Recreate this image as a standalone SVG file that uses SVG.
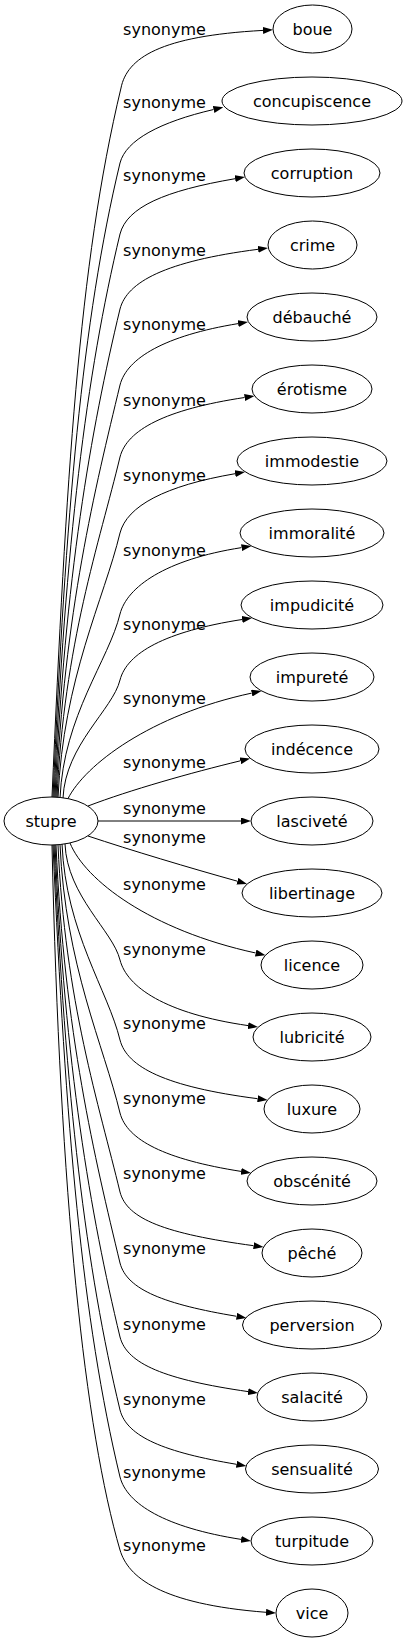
<svg xmlns="http://www.w3.org/2000/svg" width="407" height="1643" viewBox="0 0 407 1643">
<defs>
<style>
.n ellipse{fill:#fff;stroke:#000;stroke-width:1}
text{font-family:"DejaVu Sans","Liberation Sans",sans-serif;font-size:16px;fill:#000;text-anchor:middle}
.e path{fill:none;stroke:#000;stroke-width:1;marker-end:url(#arr)}
</style>
<marker id="arr" viewBox="0 0 10 7" refX="0" refY="3.5" markerWidth="10" markerHeight="7" orient="auto" markerUnits="userSpaceOnUse"><path d="M0,0 L10,3.5 L0,7 z" fill="#000"/></marker>
</defs>
<rect width="407" height="1643" fill="#fff"/>
<g id="edges" class="e">
<path d="M52,797 C66.2,478 78.5,265.3 121,88 C127,58 160,36 263,30.4"/>
<path d="M53,797 C65.7,511.7 82,321.5 120,163 C126,140 160,122 213.6,109.5"/>
<path d="M54,797 C65.3,543.7 86.2,374.8 120,234 C127,207 165,190.7 235.1,178.7"/>
<path d="M55,797 C64.8,577.4 90.7,431 120,309 C127,282 165,261.3 258.1,249.3"/>
<path d="M56,797 C64.2,611.6 95.3,488 120,385 C127,358 165,335.6 238.1,323.6"/>
<path d="M57,797.5 C63.8,644.3 99.6,542.1 120,457 C127,430 165,409.5 244.6,397.5"/>
<path d="M58,797.5 C63.3,678.5 104.1,599.1 120,533 C127,506 165,485.7 235.1,473.7"/>
<path d="M60,798 C63.7,715.2 109,660 120,614 C127,587 165,559.6 241.6,547.6"/>
<path d="M63,798 C65.4,744.9 112.9,709.5 120,680 C127,653 165,631.5 242.1,619.5"/>
<path d="M68,798.6 C85,765 150,715 251.7,693.1"/>
<path d="M88,806 C130,790 190,773 240.4,760.8"/>
<path d="M98,821 L241,821"/>
<path d="M88,836 C130,850 190,868 237.4,881.2"/>
<path d="M70,843 C85,880 150,930 255.7,953"/>
<path d="M65,844 C67.3,896.2 113,931 120,960 C127,987 165,1013.6 248.1,1025.6"/>
<path d="M62,844 C65.9,932.2 108.2,991 120,1040 C127,1067 165,1086.7 257.6,1098.7"/>
<path d="M60,844.5 C65.4,965.3 103.9,1045.9 120,1113 C127,1140 165,1159.4 241.1,1171.4"/>
<path d="M58,845 C64.9,1001.2 99.2,1105.3 120,1192 C127,1219 165,1233.7 253.6,1245.7"/>
<path d="M56,845 C64.4,1033.1 94.9,1158.5 120,1263 C127,1290 165,1304.3 236.6,1316.3"/>
<path d="M55,845 C64.8,1066.4 90.5,1214 120,1337 C127,1364 165,1379.6 248.1,1391.6"/>
<path d="M54,845 C65.3,1099.3 86.1,1268.8 120,1410 C127,1437 165,1452.3 236.5,1464.3"/>
<path d="M53,845 C65.6,1129.4 82.1,1319 120,1477 C127,1504 165,1527.4 241.1,1539.4"/>
<path d="M52,845 C60,1200 85,1430 120,1550 C128,1577 160,1604 266,1612.3"/>
</g>
<g id="edge-labels">
<text x="164.5" y="35.1">synonyme</text>
<text x="164.5" y="108.4">synonyme</text>
<text x="164.5" y="181.1">synonyme</text>
<text x="164.5" y="256.1">synonyme</text>
<text x="164.5" y="330.1">synonyme</text>
<text x="164.5" y="406.1">synonyme</text>
<text x="164.5" y="481.1">synonyme</text>
<text x="164.5" y="556.1">synonyme</text>
<text x="164.5" y="630.4">synonyme</text>
<text x="164.5" y="703.7">synonyme</text>
<text x="164.5" y="767.7">synonyme</text>
<text x="164.5" y="814.4">synonyme</text>
<text x="164.5" y="842.7">synonyme</text>
<text x="164.5" y="890.4">synonyme</text>
<text x="164.5" y="955.4">synonyme</text>
<text x="164.5" y="1029.4">synonyme</text>
<text x="164.5" y="1104.4">synonyme</text>
<text x="164.5" y="1179.4">synonyme</text>
<text x="164.5" y="1254.4">synonyme</text>
<text x="164.5" y="1330.4">synonyme</text>
<text x="164.5" y="1405.1">synonyme</text>
<text x="164.5" y="1478.4">synonyme</text>
<text x="164.5" y="1551.1">synonyme</text>
</g>
<g id="stupre" class="n"><ellipse cx="51" cy="821" rx="47" ry="24"/><text x="51" y="826.5">stupre</text></g>
<g id="boue" class="n"><ellipse cx="312.5" cy="29" rx="39.5" ry="24"/><text x="312.5" y="34.5">boue</text></g>
<g id="concupiscence" class="n"><ellipse cx="312" cy="101" rx="90" ry="24"/><text x="312" y="106.5">concupiscence</text></g>
<g id="corruption" class="n"><ellipse cx="312" cy="173" rx="68" ry="24"/><text x="312" y="178.5">corruption</text></g>
<g id="crime" class="n"><ellipse cx="312.5" cy="245" rx="44.5" ry="24"/><text x="312.5" y="250.5">crime</text></g>
<g id="debauche" class="n"><ellipse cx="312" cy="317" rx="65" ry="24"/><text x="312" y="322.5">débauché</text></g>
<g id="erotisme" class="n"><ellipse cx="312" cy="389" rx="60" ry="24"/><text x="312" y="394.5">érotisme</text></g>
<g id="immodestie" class="n"><ellipse cx="312" cy="461" rx="75" ry="24"/><text x="312" y="466.5">immodestie</text></g>
<g id="immoralite" class="n"><ellipse cx="312" cy="533" rx="72" ry="24"/><text x="312" y="538.5">immoralité</text></g>
<g id="impudicite" class="n"><ellipse cx="312" cy="605" rx="71" ry="24"/><text x="312" y="610.5">impudicité</text></g>
<g id="impurete" class="n"><ellipse cx="312" cy="677" rx="62" ry="24"/><text x="312" y="682.5">impureté</text></g>
<g id="indecence" class="n"><ellipse cx="312" cy="749" rx="67" ry="24"/><text x="312" y="754.5">indécence</text></g>
<g id="lascivete" class="n"><ellipse cx="312" cy="821" rx="61" ry="24"/><text x="312" y="826.5">lasciveté</text></g>
<g id="libertinage" class="n"><ellipse cx="312" cy="893" rx="70" ry="24"/><text x="312" y="898.5">libertinage</text></g>
<g id="licence" class="n"><ellipse cx="312" cy="965" rx="51" ry="24"/><text x="312" y="970.5">licence</text></g>
<g id="lubricite" class="n"><ellipse cx="312" cy="1037" rx="59" ry="24"/><text x="312" y="1042.5">lubricité</text></g>
<g id="luxure" class="n"><ellipse cx="312" cy="1109" rx="48" ry="24"/><text x="312" y="1114.5">luxure</text></g>
<g id="obscenite" class="n"><ellipse cx="312" cy="1181" rx="65" ry="24"/><text x="312" y="1186.5">obscénité</text></g>
<g id="peche" class="n"><ellipse cx="312" cy="1253" rx="50" ry="24"/><text x="312" y="1258.5">pêché</text></g>
<g id="perversion" class="n"><ellipse cx="312" cy="1325" rx="69.5" ry="24"/><text x="312" y="1330.5">perversion</text></g>
<g id="salacite" class="n"><ellipse cx="312" cy="1397" rx="55" ry="24"/><text x="312" y="1402.5">salacité</text></g>
<g id="sensualite" class="n"><ellipse cx="312" cy="1469" rx="66.5" ry="24"/><text x="312" y="1474.5">sensualité</text></g>
<g id="turpitude" class="n"><ellipse cx="312" cy="1541" rx="61" ry="24"/><text x="312" y="1546.5">turpitude</text></g>
<g id="vice" class="n"><ellipse cx="312" cy="1613" rx="36" ry="24"/><text x="312" y="1618.5">vice</text></g>
</svg>
